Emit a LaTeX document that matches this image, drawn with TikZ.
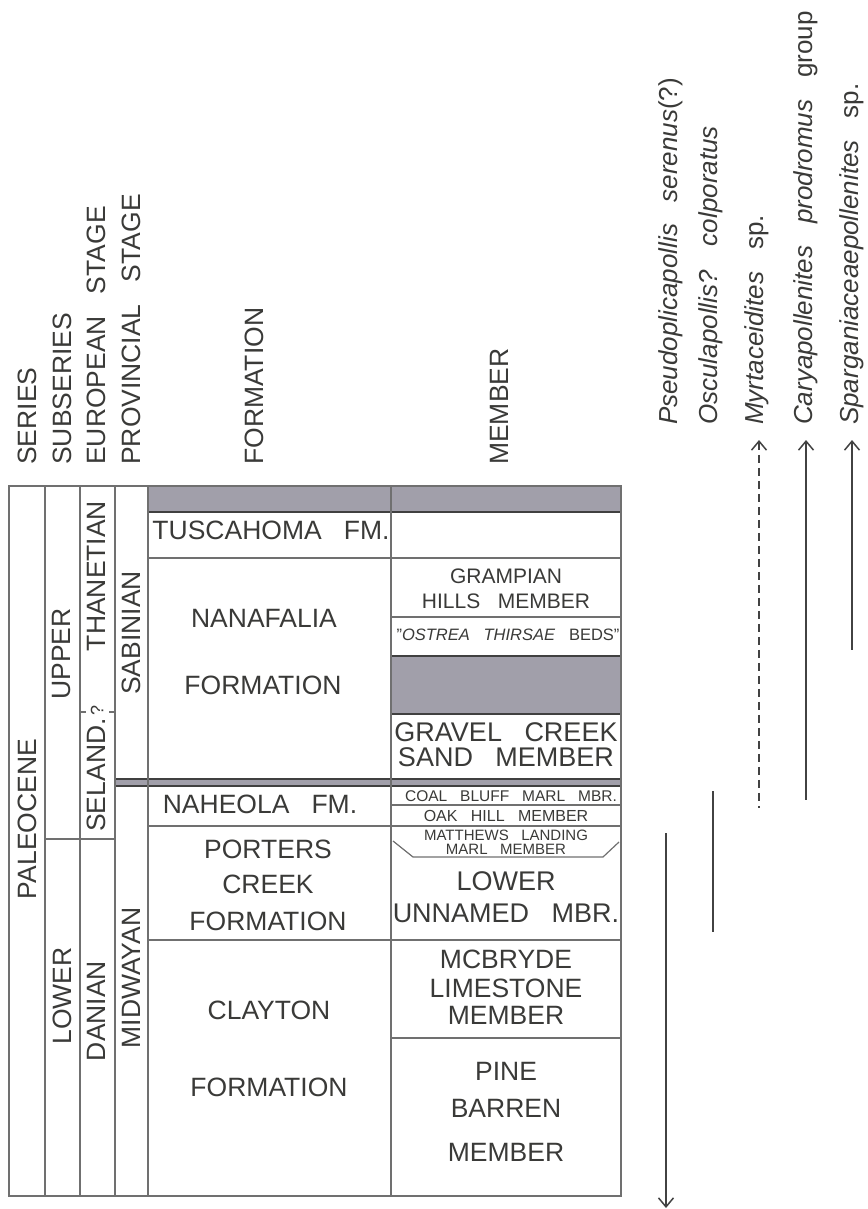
\documentclass[tikz,border=0pt]{standalone}
\usepackage{fontspec}
\setmainfont{Liberation Sans}[WordSpace=3]
\usetikzlibrary{arrows.meta}
\definecolor{txt}{RGB}{58,58,56}
\definecolor{rulec}{RGB}{112,112,112}
\definecolor{gfill}{RGB}{161,159,170}
\definecolor{rngc}{RGB}{66,66,66}
\newcommand{\fz}[1]{\fontsize{#1}{#1}\selectfont}
\tikzset{
  lbl/.style={inner sep=0pt, text=txt, font=\fz{26.5}},
  hdr/.style={lbl, rotate=90, anchor=west},
  vlbl/.style={lbl, rotate=90},
  sp/.style={inner sep=0pt, text=txt, font=\fz{26}\itshape, rotate=90, anchor=base west},
  tline/.style={draw=rulec, line width=1.2pt},
  gbox/.style={fill=gfill, draw=black!75, line width=1.2pt},
  rangeline/.style={draw=rngc, line width=1.5pt},
  uparrow/.style={rangeline, {Straight Barb[length=9pt,width=15pt]}-},
  downarrow/.style={rangeline, -{Straight Barb[length=9pt,width=15pt]}}
}
\begin{document}
\begin{tikzpicture}[x=1pt,y=-1pt]
\useasboundingbox (0,0) rectangle (867,1209);
% grey bands
\path[gbox] (148,486) rectangle (621,512);
\path[gbox] (391,656) rectangle (621,714);
\path[gbox] (115,779) rectangle (621,786);
% table frame and columns
\draw[tline] (9,486) rectangle (621,1196);
\foreach \cx in {45,80,115,148,391} \draw[tline] (\cx,486) -- (\cx,1196);
\draw[tline] (148,558) -- (621,558);
\draw[tline] (391,617) -- (621,617);
\draw[tline] (391,805) -- (621,805);
\draw[tline] (148,826) -- (621,826);
\draw[tline] (148,940) -- (621,940);
\draw[tline] (391,1038) -- (621,1038);
\draw[tline] (45,839) -- (115,839);
\draw[tline] (393,841) -- (413,857) -- (603,857) -- (619,842);
\draw[tline] (81,712) -- (86,712);
\draw[tline] (109,712) -- (114,712);
% headers
\node[hdr] (hseries) at (27.5,465) {SERIES};
\node[hdr] (hsub) at (62,465) {SUBSERIES};
\node[hdr] (heur) at (96.5,465) {EUROPEAN STAGE};
\node[hdr] (hprov) at (131,465) {PROVINCIAL STAGE};
\node[hdr] (hform) at (254,465) {FORMATION};
\node[hdr] (hmem) at (499,465) {MEMBER};
% left columns
\node[vlbl] (paleo) at (27.5,819) {PALEOCENE};
\node[vlbl] (upper) at (62,654) {UPPER};
\node[vlbl] (lower) at (62,996) {LOWER};
\node[vlbl] (than) at (96.5,576) {THANETIAN};
\node[vlbl] (seland) at (96.5,775) {SELAND.};
\node[lbl, rotate=90, font=\fz{18}] (selq) at (97,710) {?};
\node[vlbl] (danian) at (96.5,1011) {DANIAN};
\node[vlbl] (sabin) at (131,633) {SABINIAN};
\node[vlbl] (midway) at (131,978) {MIDWAYAN};
% formations
\node[lbl] (tusc) at (271,530) {TUSCAHOMA FM.};
\node[lbl] (nana1) at (264,618) {NANAFALIA};
\node[lbl] (nana2) at (263,685) {FORMATION};
\node[lbl] (nahe) at (260,804) {NAHEOLA FM.};
\node[lbl] (port1) at (268,849) {PORTERS};
\node[lbl] (port2) at (268,884) {CREEK};
\node[lbl] (port3) at (268,921) {FORMATION};
\node[lbl] (clay1) at (269,1010) {CLAYTON};
\node[lbl] (clay2) at (269,1087) {FORMATION};
% members
\node[lbl, font=\fz{21}] (gram1) at (506,576) {GRAMPIAN};
\node[lbl, font=\fz{21}] (gram2) at (506,601) {HILLS MEMBER};
\node[lbl, font=\fz{16.5}] (ostr) at (508,635) {"\textit{OSTREA THIRSAE} BEDS"};
\node[lbl, font=\fz{27}] (grav1) at (506,732) {GRAVEL CREEK};
\node[lbl, font=\fz{27}] (grav2) at (506,757) {SAND MEMBER};
\node[lbl, font=\fz{15.5}] (coal) at (511,796) {COAL BLUFF MARL MBR.};
\node[lbl, font=\fz{16}] (oak) at (506,816) {OAK HILL MEMBER};
\node[lbl, font=\fz{15}] (matt1) at (506,835) {MATTHEWS LANDING};
\node[lbl, font=\fz{15}] (matt2) at (506,849) {MARL MEMBER};
\node[lbl, font=\fz{27}] (lun1) at (506,881) {LOWER};
\node[lbl, font=\fz{27}] (lun2) at (506,913) {UNNAMED MBR.};
\node[lbl] (mcb1) at (506,959) {MCBRYDE};
\node[lbl] (mcb2) at (506,988) {LIMESTONE};
\node[lbl] (mcb3) at (506,1015) {MEMBER};
\node[lbl] (pine1) at (506,1071) {PINE};
\node[lbl] (pine2) at (506,1108) {BARREN};
\node[lbl] (pine3) at (506,1152) {MEMBER};
% species labels
\node[sp] (pseudo) at (677,425) {Pseudoplicapollis serenus\upshape(?)};
\node[sp] (oscul) at (717,425) {Osculapollis? colporatus};
\node[sp] (myrt) at (763,425) {Myrtaceidites \upshape sp.};
\node[sp] (carya) at (812,425) {Caryapollenites prodromus \upshape group};
\node[sp] (sparg) at (858,425) {Sparganiaceaepollenites \upshape sp.};
% range lines
\coordinate (pseudoT) at (666,833); \coordinate (pseudoB) at (666,1208);
\coordinate (osculT) at (713,791); \coordinate (osculB) at (713,932);
\coordinate (myrtT) at (759,440); \coordinate (myrtB) at (759,808);
\coordinate (caryaT) at (806,440); \coordinate (caryaB) at (806,800);
\coordinate (spargT) at (852,440); \coordinate (spargB) at (852,650);
\draw[downarrow] (pseudoT) -- (pseudoB);
\draw[rangeline] (osculT) -- (osculB);
\draw[uparrow, dash pattern=on 8pt off 5pt] (myrtT) -- (myrtB);
\draw[uparrow] (caryaT) -- (caryaB);
\draw[uparrow] (spargT) -- (spargB);
\end{tikzpicture}
\end{document}
